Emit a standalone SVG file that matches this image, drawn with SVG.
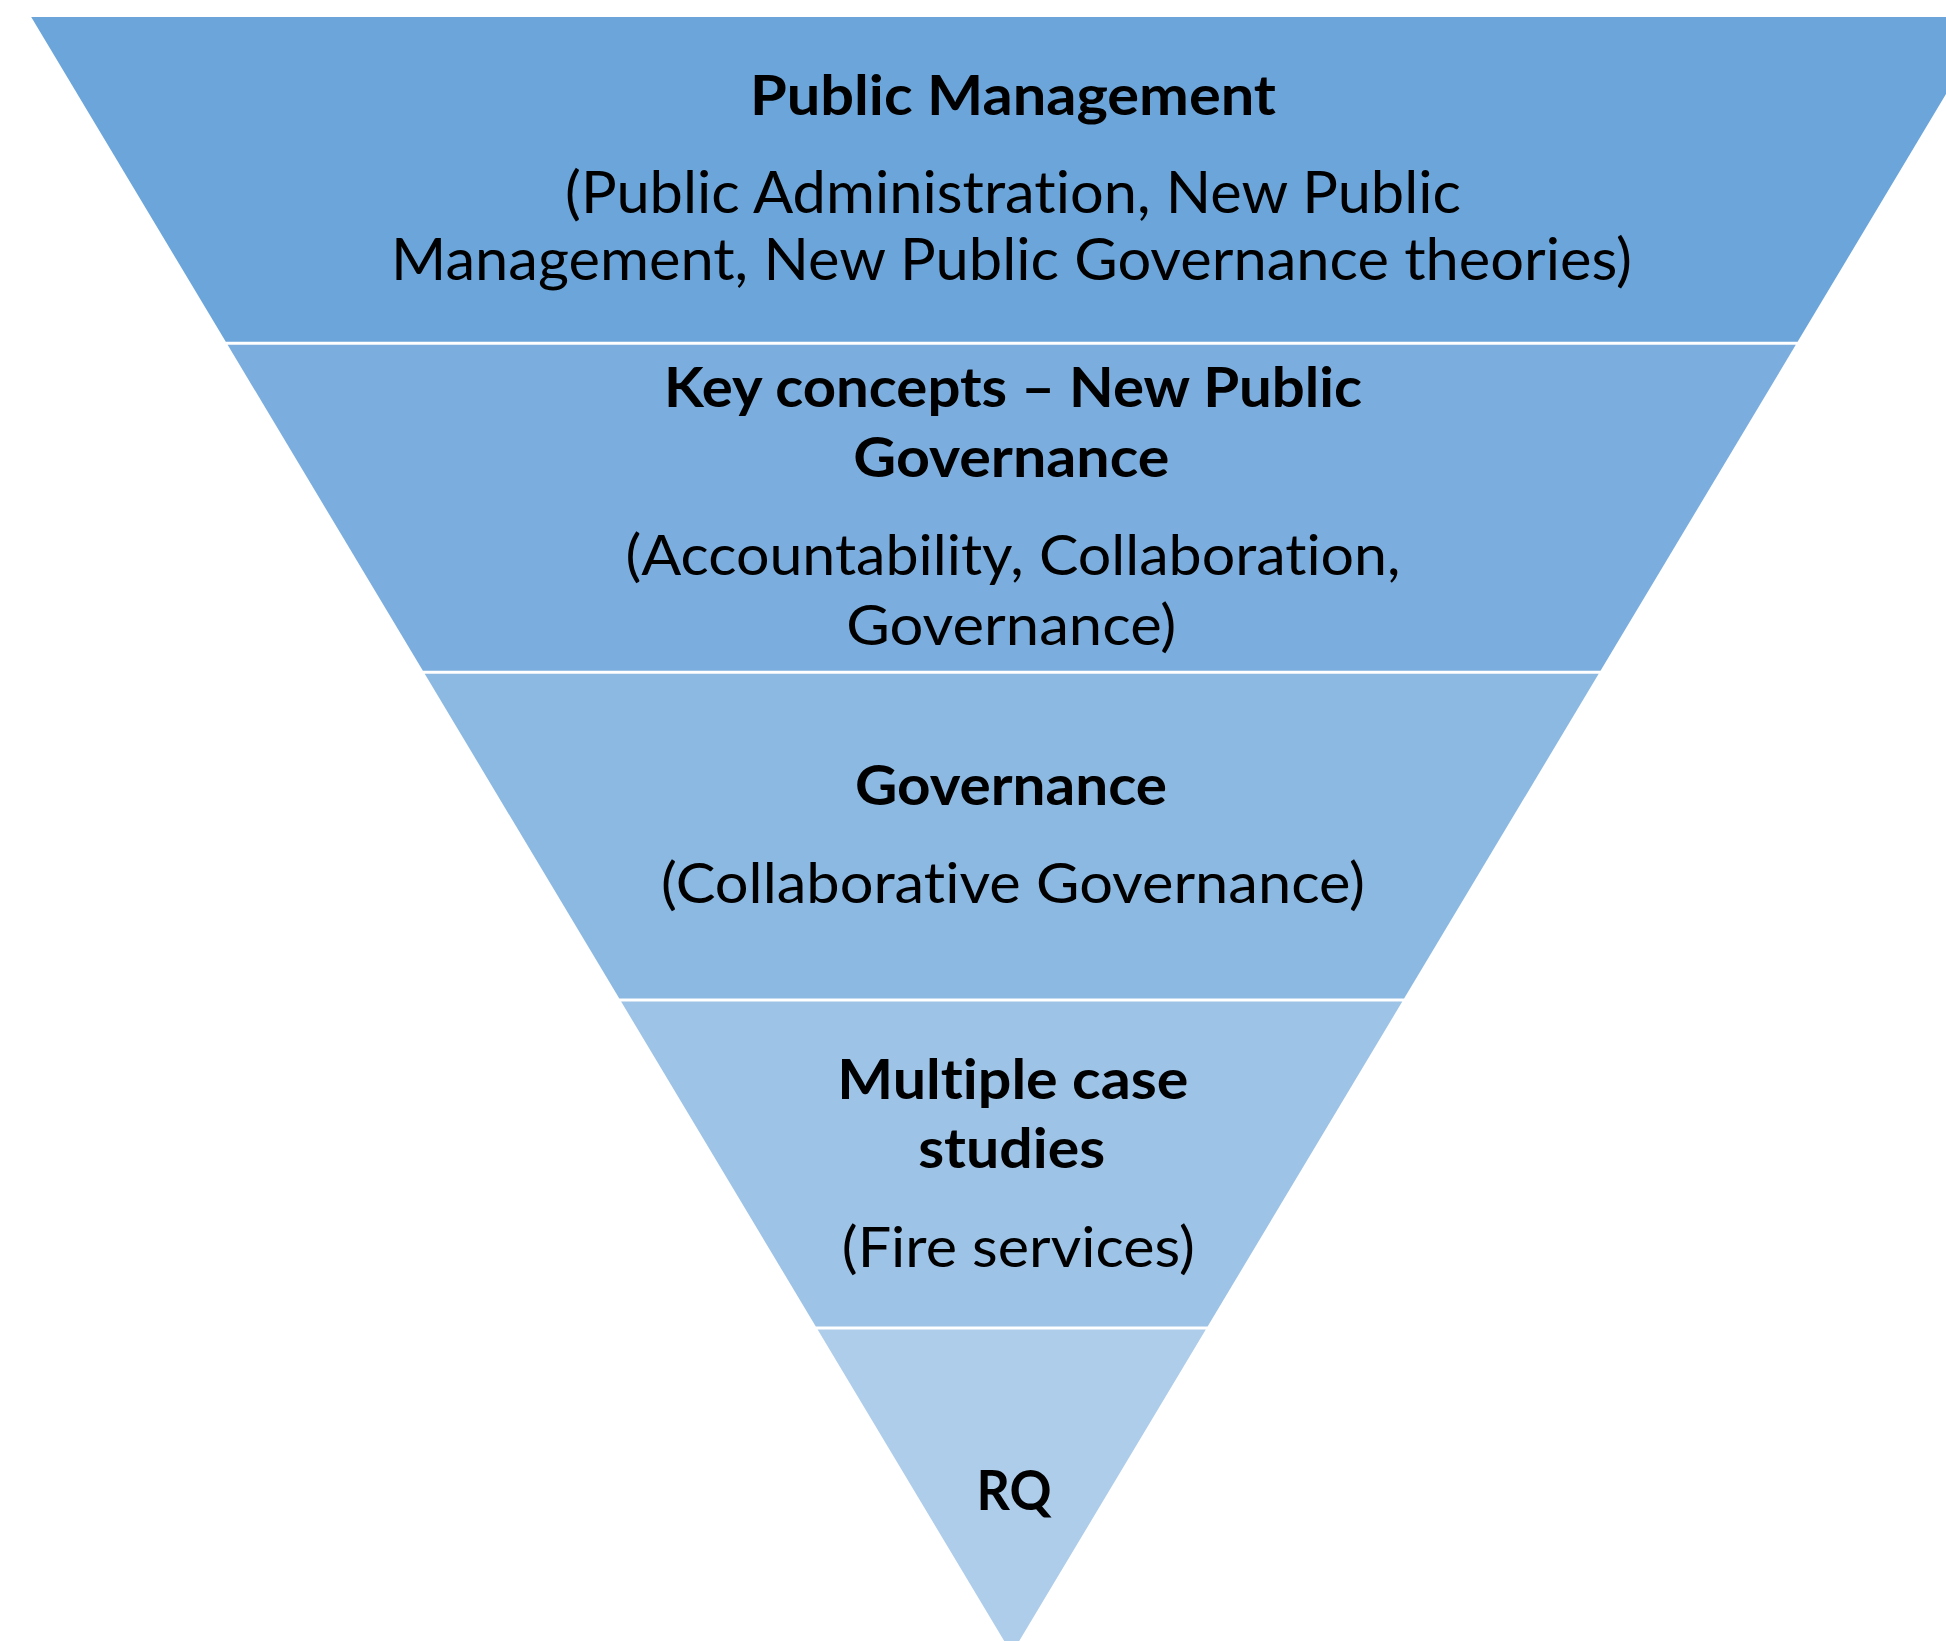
<svg xmlns="http://www.w3.org/2000/svg" width="1946" height="1641" viewBox="0 0 1946 1641">
<style>
text{font-family:Lato,"Open Sans","Liberation Sans",sans-serif;fill:#000;text-anchor:middle;font-variant-ligatures:none;font-feature-settings:"liga" 0,"clig" 0}
.b{font-weight:700;font-size:55px}
.r{font-weight:400;font-size:56px}
.r2{font-weight:400;font-size:58px}
</style>
<rect width="1946" height="1641" fill="#fff"/>
<g id="band1">
<polygon points="31.2,17 1992.2,17 1797.6,341.8 225.8,341.8" fill="#6BA5DA"/>
<text class="b" x="1013" y="115" textLength="526" lengthAdjust="spacingAndGlyphs">Public Management</text>
<text class="r2" x="1013" y="213.3" textLength="896" lengthAdjust="spacingAndGlyphs">(Public Administration, New Public</text>
<text class="r2" x="1011.5" y="280" textLength="1241" lengthAdjust="spacingAndGlyphs">Management, New Public Governance theories)</text>
</g>
<g id="band2">
<polygon points="227.6,344.8 1795.8,344.8 1600.5,670.8 422.9,670.8" fill="#7BAEDE"/>
<text class="b" x="1013" y="406.7" textLength="698" lengthAdjust="spacingAndGlyphs">Key concepts – New Public</text>
<text class="b" x="1011.3" y="476.7" textLength="316" lengthAdjust="spacingAndGlyphs">Governance</text>
<text class="r" x="1013" y="575" textLength="775" lengthAdjust="spacingAndGlyphs">(Accountability, Collaboration,</text>
<text class="r" x="1011.3" y="645" textLength="330" lengthAdjust="spacingAndGlyphs">Governance)</text>
</g>
<g id="band3">
<polygon points="424.7,673.8 1598.7,673.8 1404.1,998.5 619.3,998.5" fill="#8CB9E2"/>
<text class="b" x="1011" y="805" textLength="312" lengthAdjust="spacingAndGlyphs">Governance</text>
<text class="r" x="1013" y="903.3" textLength="704" lengthAdjust="spacingAndGlyphs">(Collaborative Governance)</text>
</g>
<g id="band4">
<polygon points="621.1,1001.5 1402.3,1001.5 1207.6,1326.5 815.8,1326.5" fill="#9DC3E6"/>
<text class="b" x="1012.8" y="1099.3" textLength="351" lengthAdjust="spacingAndGlyphs">Multiple case</text>
<text class="b" x="1011.7" y="1168.3" textLength="187" lengthAdjust="spacingAndGlyphs">studies</text>
<text class="r" x="1018.3" y="1266.7" textLength="353" lengthAdjust="spacingAndGlyphs">(Fire services)</text>
</g>
<g id="band5">
<polygon points="817.6,1329.5 1205.8,1329.5 1011.7,1653.5" fill="#AECDEA"/>
<text class="b" x="1014" y="1510" textLength="75" lengthAdjust="spacingAndGlyphs">RQ</text>
</g>
<g id="connectors"/>
</svg>
